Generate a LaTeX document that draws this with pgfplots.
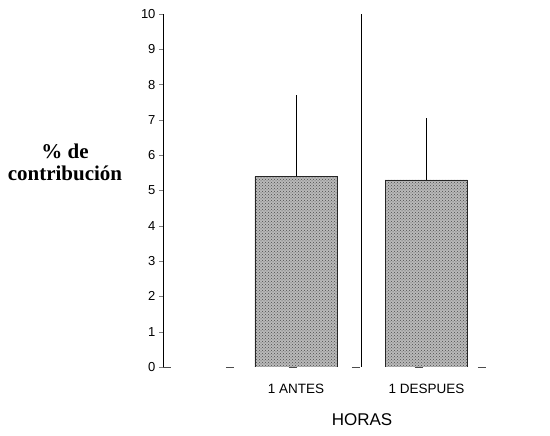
\documentclass[border=0pt]{standalone}
\usepackage{fontspec}
\setmainfont{Liberation Sans}
\newfontfamily\labelserif{Liberation Serif}
\usepackage{pgfplots}
\pgfplotsset{compat=1.18}
\usetikzlibrary{patterns}

\begin{document}
\begin{tikzpicture}[x=1pt,y=1pt]
\useasboundingbox (0,0) rectangle (550,436);
\begin{axis}[
    at={(163pt,69pt)}, anchor=south west,
    scale only axis, width=377pt, height=353pt,
    xmin=-0.02, xmax=2.87,
    ymin=0, ymax=10,
    axis lines*=left,
    axis line style={-, line width=0.6pt},
    x axis line style={dash pattern=on 8pt off 55pt, black!70},
    ytick={0,1,...,10},
    tick align=outside,
    major tick length=4pt,
    xtick={1,2},
    xticklabels={1 ANTES, 1 DESPUES},
    x tick style={draw=none},
    xticklabel style={font=\fontsize{13.5}{15}\selectfont, yshift=-10pt},
    yticklabel style={font=\fontsize{13}{15}\selectfont},
    /pgf/number format/assume math mode=true,
    xlabel={HORAS},
    xlabel style={font=\fontsize{17}{19}\selectfont, at={(axis description cs:0.528,-0.15)}, anchor=center},
    ylabel={\% de\\contribución},
    ylabel style={rotate=-90, align=center, font=\fontsize{21}{22}\labelserif\bfseries,
        at={(axis description cs:-0.26,0.58)}, anchor=center},
]
\addplot[ybar, bar width=0.63, fill=gray!55, draw=black!85, line width=0.6pt,
    postaction={pattern=crosshatch dots, pattern color=black!70},
    error bars/.cd, y dir=plus, y explicit, error mark=none,
    error bar style={black, line width=0.6pt}]
    coordinates {
    (1, 5.40) +- (0, 2.30)
    (2, 5.30) +- (0, 1.75)
    };
\addplot[black, line width=0.8pt] coordinates {(1.5,0) (1.5,10)};
\end{axis}
\end{tikzpicture}
\end{document}
